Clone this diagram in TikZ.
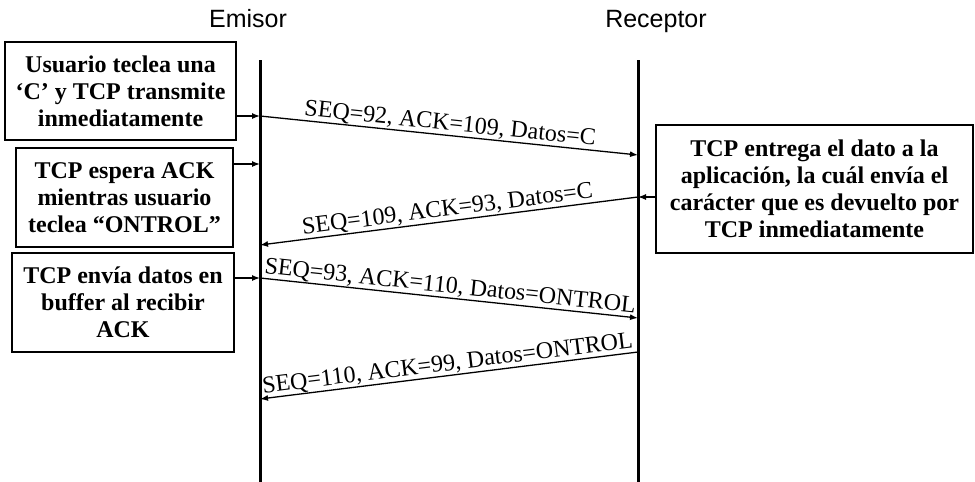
\documentclass[tikz,border=0pt]{standalone}
\usepackage{fontspec}
\setmainfont{Liberation Serif}
\newfontfamily\headfont{Liberation Sans}
\usetikzlibrary{arrows.meta}
\tikzset{
  lifeline/.style={line width=3pt},
  msg/.style={line width=1.3pt,-{Latex[length=8pt,width=6pt]}},
  note/.style={draw,line width=1.2pt,align=center,inner sep=0pt,
    font=\bfseries\fontsize{24}{27}\selectfont},
  mlabel/.style={sloped,above,inner sep=0.5pt,font=\fontsize{24}{26}\selectfont},
  head/.style={anchor=base,font=\headfont\fontsize{25}{28}\selectfont}
}
\begin{document}
\begin{tikzpicture}[x=1pt,y=-1pt]
\useasboundingbox (0,0) rectangle (975,482);
% headings
\node[head] (hE) at (248,27) {Emisor};
\node[head] (hR) at (656,27) {Receptor};
% lifelines
\coordinate (Et) at (260,60);
\coordinate (Eb) at (260,482);
\coordinate (Rt) at (638,60);
\coordinate (Rb) at (638,482);
\draw[lifeline] (Et) -- (Eb);
\draw[lifeline] (Rt) -- (Rb);
% notes
\node[note,minimum width=231pt,minimum height=98pt] (b1) at (120.5,91)
  {Usuario teclea una\\‘C’ y TCP transmite\\inmediatamente};
\node[note,minimum width=217pt,minimum height=99pt] (b2) at (124.5,197.5)
  {TCP espera ACK\\mientras usuario\\teclea “ONTROL”};
\node[note,minimum width=222pt,minimum height=99pt] (b3) at (123,302.5)
  {TCP envía datos en\\buffer al recibir\\ACK};
\node[note,minimum width=317pt,minimum height=128pt] (b4) at (814.5,189)
  {TCP entrega el dato a la\\aplicación, la cuál envía el\\carácter que es devuelto por\\TCP inmediatamente};
% points on lifelines
\coordinate (e1) at (260,116);
\coordinate (e2) at (260,164);
\coordinate (e3) at (260,278);
\coordinate (r4) at (638,197);
\coordinate (m1a) at (260,116);
\coordinate (m1b) at (638,155);
\coordinate (m2a) at (638,197);
\coordinate (m2b) at (260,245);
\coordinate (m3a) at (260,278);
\coordinate (m3b) at (638,318);
\coordinate (m4a) at (638,352);
\coordinate (m4b) at (260,399);
% note arrows
\draw[msg] (b1.east |- e1) -- (e1);
\draw[msg] (b2.east |- e2) -- (e2);
\draw[msg] (b3.east |- e3) -- (e3);
\draw[msg] (b4.west |- r4) -- (r4);
% messages
\draw[msg] (m1a) -- node[mlabel] {SEQ=92, ACK=109, Datos=C} (m1b);
\draw[msg] (m2a) -- node[mlabel] {SEQ=109, ACK=93, Datos=C} (m2b);
\draw[msg] (m3a) -- node[mlabel] {SEQ=93, ACK=110, Datos=ONTROL} (m3b);
\draw[msg] (m4a) -- node[mlabel] {SEQ=110, ACK=99, Datos=ONTROL} (m4b);
\end{tikzpicture}
\end{document}
